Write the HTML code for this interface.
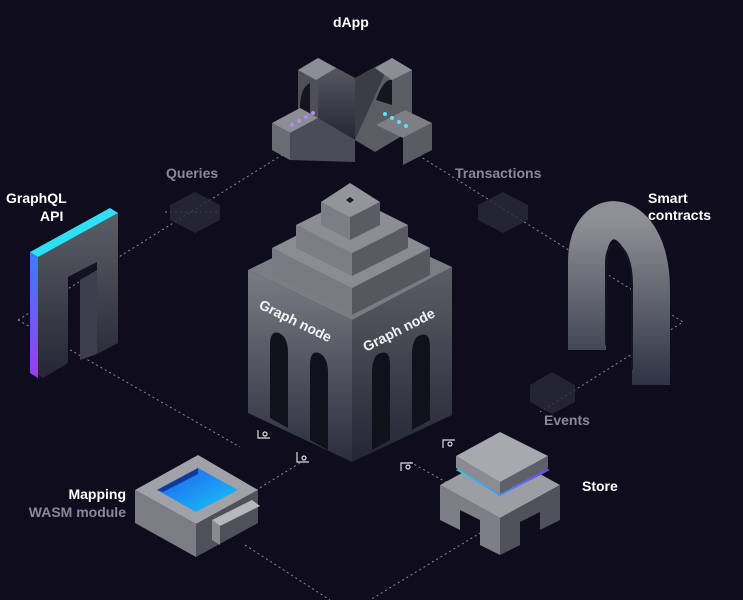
<!DOCTYPE html>
<html><head><meta charset="utf-8"><style>
html,body{margin:0;padding:0;background:#0e0c1d;}
svg{display:block}
text{font-family:"Liberation Sans",sans-serif;font-weight:bold}
</style></head><body>
<svg width="743" height="600" viewBox="0 0 743 600" xmlns="http://www.w3.org/2000/svg">
<defs>
<linearGradient id="gL" x1="0" y1="0" x2="0" y2="1"><stop offset="0" stop-color="#7a7c84"/><stop offset="1" stop-color="#2b2f3d"/></linearGradient>
<linearGradient id="gR" x1="0" y1="0" x2="0" y2="1"><stop offset="0" stop-color="#5c5e66"/><stop offset="1" stop-color="#232734"/></linearGradient>
<linearGradient id="blueP" x1="0" y1="0" x2="0" y2="1"><stop offset="0" stop-color="#3a7cff"/><stop offset="1" stop-color="#9a3cf0"/></linearGradient>
<linearGradient id="arc" x1="0" y1="0" x2="0" y2="1"><stop offset="0" stop-color="#8e9096"/><stop offset="1" stop-color="#2e3444"/></linearGradient>
<linearGradient id="pool" x1="0" y1="0" x2="1" y2="1"><stop offset="0" stop-color="#1e5cf0"/><stop offset="1" stop-color="#19c8f5"/></linearGradient>
<linearGradient id="band" x1="0" y1="0" x2="1" y2="0"><stop offset="0" stop-color="#19d6f5"/><stop offset="1" stop-color="#7b3cf0"/></linearGradient>
</defs>

<g stroke="#b8b8c4" stroke-width="1" stroke-dasharray="2,3" fill="none" opacity="0.75">
<polyline points="18,320 290,150"/>
<polyline points="18,320 240,447"/>
<polyline points="410,150 683,322 540,412"/>
<polyline points="300,463 245,497"/>
<polyline points="410,462 460,490"/>
<polyline points="245,545 330,600"/>
<polyline points="485,530 370,600"/>
<polyline points="165,212 220,212"/>
</g>

<g fill="#2a2a38" opacity="0.8">
<polygon points="170,205 195,192 220,205 220,220 195,233 170,220"/>
<polygon points="478,205 503,192 528,205 528,220 503,233 478,220"/>
<polygon points="530,385 552,372 575,385 575,402 552,414 530,402"/>
</g>

<g fill="#fff" font-size="14">
<text x="333" y="27">dApp</text>
<text x="6" y="203">GraphQL</text>
<text x="40" y="221">API</text>
<text x="648" y="203">Smart</text>
<text x="648" y="220">contracts</text>
<text x="582" y="491">Store</text>
<text x="126" y="499" text-anchor="end">Mapping</text>
</g>
<g fill="#8a8a96" font-size="14">
<text x="166" y="178">Queries</text>
<text x="455" y="178">Transactions</text>
<text x="544" y="425">Events</text>
<text x="126" y="517" text-anchor="end">WASM module</text>
</g>

<g>
<polygon points="298,70 318,58 355,78 355,140 335,152 298,130" fill="#4e5058"/>
<polygon points="318,58 355,78 355,140 318,120" fill="url(#gR)"/>
<polygon points="298,70 318,58 336,68 316,80" fill="#8d8e94"/>
<polygon points="272,123 300,108 318,118 290,133" fill="#8d8e94"/>
<polygon points="272,123 290,133 290,160 272,150" fill="#6a6c73"/>
<polygon points="290,133 318,118 355,140 355,162 290,160" fill="#4a4d57"/>
<polygon points="355,78 392,58 412,70 412,130 375,152 355,140" fill="#5b5d64"/>
<polygon points="355,78 375,68 392,58 355,140" fill="#3a3d46"/>
<polygon points="375,68 392,58 412,70 392,80" fill="#8d8e94"/>
<polygon points="376,125 405,110 432,123 403,138" fill="#7d7f85"/>
<polygon points="403,138 432,123 432,150 403,165" fill="#5a5c63"/>
<path d="M300,108 q0,-20 10,-25 v30 z" fill="#15141f"/>
<path d="M376,100 q8,-22 16,-20 v25 z" fill="#15141f"/>
<g fill="#b58bff"><circle cx="292" cy="125" r="2"/><circle cx="299" cy="121" r="2"/><circle cx="306" cy="117" r="2"/><circle cx="313" cy="113" r="2"/></g>
<g fill="#5fe0ff"><circle cx="385" cy="114" r="2"/><circle cx="392" cy="118" r="2"/><circle cx="399" cy="122" r="2"/><circle cx="406" cy="126" r="2"/></g>
</g>

<g>
<polygon points="38,257 118,213 118,343 97,354 97,262 68,277 68,363 43,378 38,375" fill="url(#gR)"/>
<polygon points="30,252 38,257 38,378 30,373" fill="url(#blueP)"/>
<polygon points="30,252 110,208 118,213 38,257" fill="#2fe0f5"/>
<polygon points="68,277 97,262 97,354 80,350 80,280" fill="#121220"/>
<polygon points="80,280 97,270 97,354 80,360" fill="#3c404c"/>
</g>

<g>
<path d="M587,350 V262 C587,200 651,205 651,290 V385" stroke="url(#arc)" stroke-width="38" fill="none"/>
<path d="M606,345 V262 C606,235 632,238 632,285 V370" stroke="#15141f" stroke-width="2" fill="none"/>
</g>

<g>
<polygon points="248,270 352,320 352,462 248,413" fill="url(#gL)"/>
<polygon points="352,320 452,267 452,415 352,462" fill="url(#gR)"/>
<polygon points="248,270 350,220 452,267 352,320" fill="#7b7d84"/>
<polygon points="272,248 352,288 352,315 272,275" fill="#797b82"/>
<polygon points="352,288 430,248 430,275 352,315" fill="#56585f"/>
<polygon points="272,248 351,208 430,248 352,288" fill="#8a8c92"/>
<polygon points="296,225 352,253 352,276 296,248" fill="#7b7d84"/>
<polygon points="352,253 408,225 408,248 352,276" fill="#595b62"/>
<polygon points="296,225 352,197 408,225 352,253" fill="#8c8e94"/>
<polygon points="321,202 350,217 350,240 321,225" fill="#7c7e85"/>
<polygon points="350,217 380,202 380,225 350,240" fill="#5a5c63"/>
<polygon points="321,202 350,183 380,202 350,217" fill="#94959b"/>
<polygon points="346,200 350,197 354,200 350,203" fill="#1a1a24"/>
<path d="M270,418 V345 q0,-15 9,-12 q9,4 9,20 V428 z" fill="#0f111b"/>
<path d="M310,440 V365 q0,-15 9,-12 q9,4 9,20 V450 z" fill="#0f111b"/>
<path d="M372,450 V373 q0,-18 9,-20 q9,-3 9,12 V440 z" fill="#0f111b"/>
<path d="M412,430 V355 q0,-18 9,-20 q9,-3 9,12 V420 z" fill="#0f111b"/>
<text transform="translate(258,308) rotate(26)" fill="#f2f2f2" font-size="14">Graph node</text>
<text transform="translate(366,352) rotate(-27)" fill="#f2f2f2" font-size="14">Graph node</text>
</g>
<g stroke="#ddd" stroke-width="1.2" fill="none">
<path d="M258,430 v8 h12"/><circle cx="265" cy="434" r="2"/>
<path d="M297,452 v10 h12"/><circle cx="304" cy="458" r="2"/>
<path d="M455,440 h-12 v8"/><circle cx="450" cy="444" r="2"/>
<path d="M413,463 h-12 v8"/><circle cx="408" cy="467" r="2"/>
</g>

<g>
<polygon points="135,490 198,455 258,490 196,524" fill="#a0a2a7"/>
<polygon points="135,490 196,524 196,557 135,523" fill="#7b7d84"/>
<polygon points="196,524 258,490 258,523 196,557" fill="#4e5159"/>
<polygon points="157,490 198,468 238,490 196,512" fill="url(#pool)"/>
<polygon points="157,490 198,468 198,474 163,492" fill="#0f3a9c"/>
<polygon points="212,520 252,500 260,506 220,526" fill="#b7b8bc"/>
<polygon points="212,520 220,526 220,545 212,540" fill="#8a8b90"/>
</g>

<g>
<polygon points="440,485 500,452 560,485 500,518" fill="#9c9ea3"/>
<polygon points="440,485 500,518 500,555 480,545 480,520 460,510 460,530 440,520" fill="#7d7f86"/>
<polygon points="500,518 560,485 560,520 540,530 540,512 520,522 520,545 500,555" fill="#4f525a"/>
<polygon points="456,470 500,446 550,470 500,496" fill="url(#band)"/>
<polygon points="456,456 500,432 548,456 500,482" fill="#a7a9ae"/>
<polygon points="456,456 500,482 500,494 456,468" fill="#8a8c92"/>
<polygon points="500,482 548,456 548,468 500,494" fill="#5d6068"/>
</g>
</svg>
</body></html>
